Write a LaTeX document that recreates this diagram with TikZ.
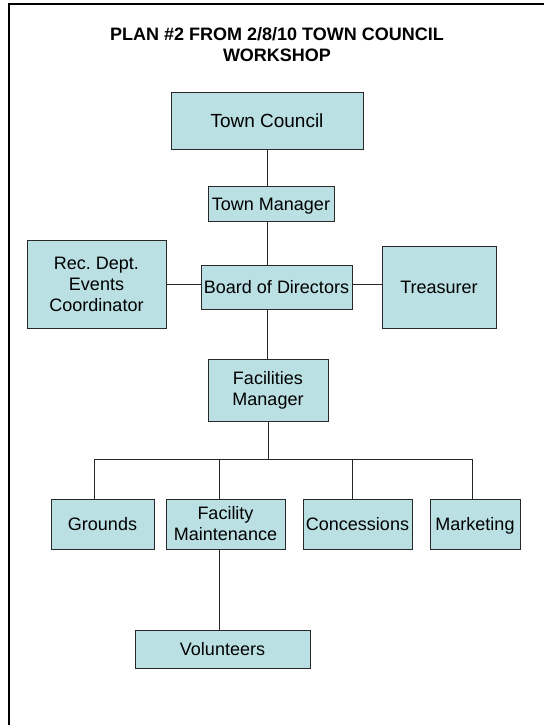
\documentclass[tikz,border=0pt]{standalone}
\usepackage{fontspec}
\setmainfont{Liberation Sans}
\usepackage{tikz}
\usetikzlibrary{positioning}

\definecolor{boxfill}{RGB}{186,224,227}
\definecolor{boxline}{RGB}{40,40,40}

\begin{document}
\begin{tikzpicture}[x=1pt, y=-1pt,
    every node/.style = {inner sep=0pt, align=center, font=\fontsize{18}{21}\selectfont},
    unit/.style = {shape=rectangle, draw=boxline, fill=boxfill, line width=0.8pt},
    oneline/.style = {text height=13.5pt, text depth=0pt},
    link/.style = {draw=black!85, line width=0.8pt}]
  \useasboundingbox (0,0) rectangle (544,725);
  % frame
  \draw[line width=2pt] (9,725) -- (9,4) -- (544,4);

  \node (title) at (277,45) {\bfseries PLAN \#2 FROM 2/8/10 TOWN COUNCIL\\\bfseries WORKSHOP};

  \node (tc) [unit, oneline, minimum width=192, minimum height=57, font=\fontsize{19}{22}\selectfont] at (267,120.5) {Town Council};
  \node (tm) [unit, oneline, minimum width=126, minimum height=35] at (271,203.5) {Town Manager};
  \node (bd) [unit, oneline, minimum width=151, minimum height=44] at (276.5,287) {Board of Directors};
  \node (rec) [unit, minimum width=139, minimum height=88] at (96.5,284) {Rec.\ Dept.\\Events\\Coordinator};
  \node (tr) [unit, oneline, minimum width=114, minimum height=82] at (439,287) {Treasurer};
  \node (fmgr) [unit, minimum width=120, minimum height=62] at (268,390) {Facilities\\Manager};

  \node (gr) [unit, oneline, minimum width=103, minimum height=50] at (102.5,524) {Grounds};
  \node (fmt) [unit, minimum width=119, minimum height=50] at (225.5,524) {Facility\\Maintenance};
  \node (con) [unit, oneline, minimum width=109, minimum height=50] at (357.5,524) {Concessions};
  \node (mkt) [unit, oneline, minimum width=90, minimum height=50] at (475,524) {Marketing};
  \node (vol) [unit, oneline, minimum width=175, minimum height=38] at (222.5,649) {Volunteers};

  \coordinate (bus) at (268,459);

  % spine
  \draw[link] (tc.south) -- (tc.south |- tm.north);
  \draw[link] (tc.south |- tm.south) -- (tc.south |- bd.north);
  \draw[link] (tc.south |- bd.south) -- (tc.south |- fmgr.north);
  \draw[link] (fmgr.south) -- (bus);
  % side units
  \draw[link] (rec.east) -- (rec.east -| bd.west);
  \draw[link] (bd.east |- rec.east) -- (rec.east -| tr.west);
  % facilities staff
  \draw[link] ([xshift=-8.5]gr.north) |- (bus);
  \draw[link] ([xshift=-6.5]fmt.north) |- (bus);
  \draw[link] ([xshift=-5.5]con.north) |- (bus);
  \draw[link] ([xshift=-3]mkt.north) |- (bus);
  \draw[link] ([xshift=-6.5]fmt.south) -- ([xshift=-6.5]fmt.south |- vol.north);

\end{tikzpicture}
\end{document}
